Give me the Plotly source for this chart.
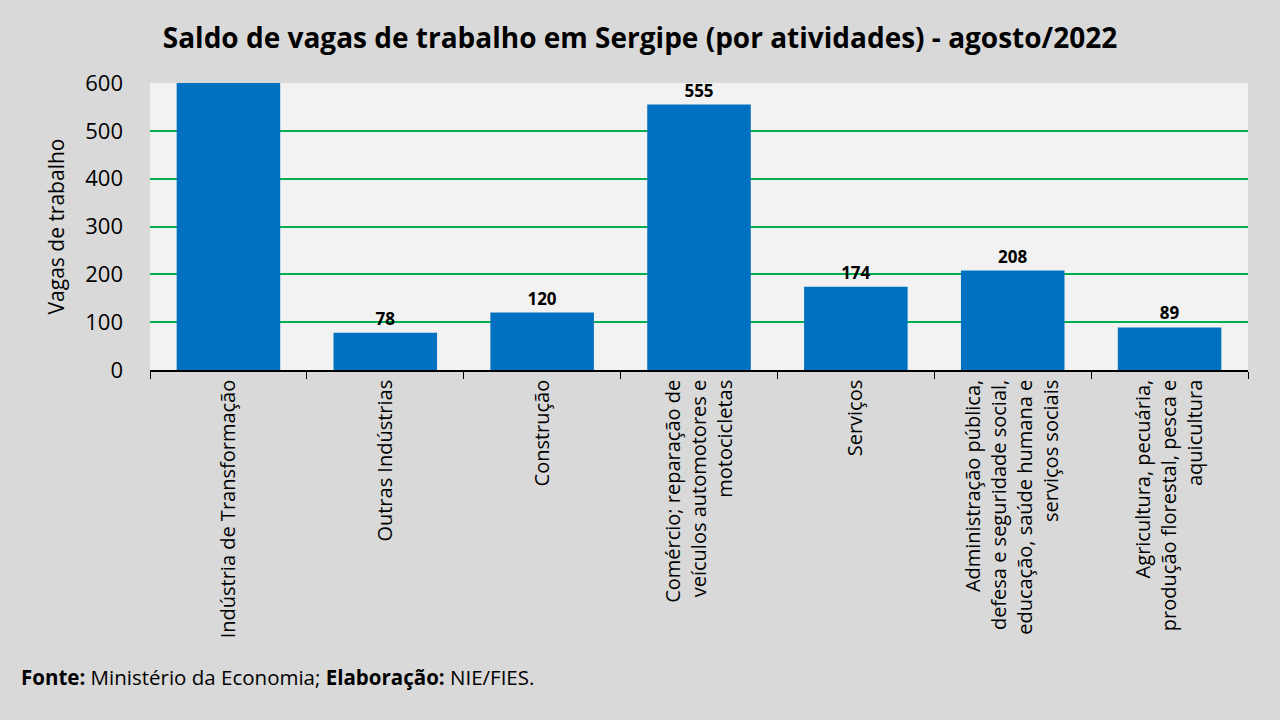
import plotly.graph_objects as go

# saldo de vagas por atividade, Sergipe, agosto/2022
atividades = [
    "Indústria de Transformação",
    "Outras Indústrias",
    "Construção",
    "Comércio; reparação de<br>veículos automotores e<br>motocicletas",
    "Serviços",
    "Administração pública,<br>defesa e seguridade social,<br>educação, saúde humana e<br>serviços sociais",
    "Agricultura, pecuária,<br>produção florestal, pesca e<br>aquicultura",
]
saldo = [700, 78, 120, 555, 174, 208, 89]
# first bar runs past the axis top in the original, its label is cut off
rotulos = ["", "78", "120", "555", "174", "208", "89"]
y_ticks = [0, 100, 200, 300, 400, 500, 600]

FONT = "Open Sans"

fig = go.Figure()
fig.add_trace(go.Bar(
    x=atividades, y=saldo, text=rotulos, textposition="outside",
    textfont=dict(family=FONT, size=17, color="#000000", weight="bold"),
    marker=dict(color="#0070c0", line_width=0),
    cliponaxis=True, width=0.66,
))

fig.update_layout(
    width=1280, height=720,
    paper_bgcolor="#d9d9d9", plot_bgcolor="#f2f2f2",
    margin=dict(l=150, r=32, t=83, b=350),
    showlegend=False,
    title=dict(text="<b>Saldo de vagas de trabalho em Sergipe (por atividades) - agosto/2022</b>",
               x=0.5, xanchor="center", y=0.947, yanchor="middle",
               font=dict(family=FONT, size=28, color="#000000")),
    font=dict(family=FONT, color="#000000"),
)
fig.update_xaxes(
    tickangle=-90, tickfont=dict(family=FONT, size=20),
    showline=True, linecolor="#000000", linewidth=1.5,
    ticks="outside", tickson="boundaries", ticklen=7, tickcolor="#000000",
    showgrid=False,
)
fig.update_yaxes(
    range=[0, 600], tickvals=y_ticks, tickfont=dict(family=FONT, size=22),
    showgrid=True, gridcolor="#00b050", gridwidth=1.5, zeroline=False,
    showline=False, ticks="", ticklabelstandoff=26,
    title=dict(text="Vagas de trabalho", font=dict(family=FONT, size=21), standoff=14),
)

fig.add_annotation(
    text="<b>Fonte:</b> Ministério da Economia; <b>Elaboração:</b> NIE/FIES.",
    xref="paper", yref="paper", x=-0.1194, y=-1.068, xanchor="left", yanchor="middle",
    showarrow=False, font=dict(family=FONT, size=20.5, color="#000000"),
)

fig.write_html("out.html", config={"displayModeBar": False},
               post_script="document.body.style.margin='0';")
